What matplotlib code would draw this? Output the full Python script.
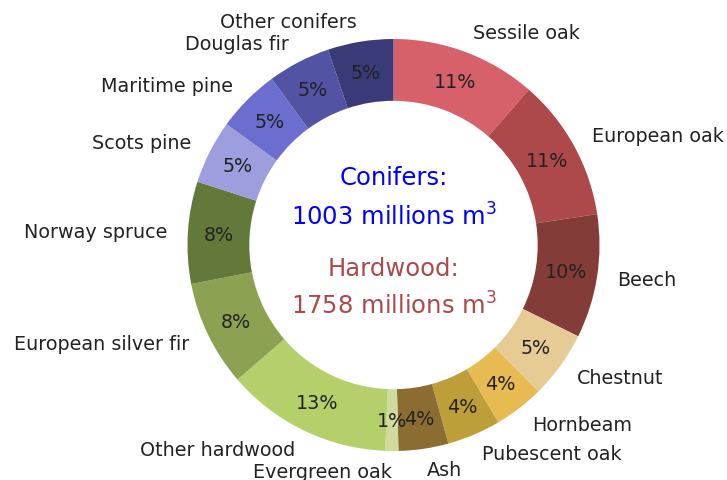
import numpy as np
import matplotlib
matplotlib.use('Agg')
import matplotlib.pyplot as plt

# standing volume, millions of m3 (clockwise from top)
species = ['Sessile oak', 'European oak', 'Beech', 'Chestnut', 'Hornbeam',
           'Pubescent oak', 'Ash', 'Evergreen oak', 'Other hardwood',
           'European silver fir', 'Norway spruce', 'Scots pine',
           'Maritime pine', 'Douglas fir', 'Other conifers']
volumes = [315, 309, 268, 146, 108, 116, 108, 28, 360,
           229, 221, 138, 137, 136, 142]
colors = ['#d6616b', '#ad494a', '#843c39', '#e7cb94', '#e7ba52',
          '#bd9e39', '#8c6d31', '#cedb9c', '#b5cf6b',
          '#8ca252', '#637939', '#9c9ede', '#6b6ecf', '#5254a3', '#393b79']

conifers_total = 1003
hardwood_total = 1758

fig = plt.figure(figsize=(7.27, 4.81), dpi=100)
ax = fig.add_axes([0, 0, 1, 1])

wedges, texts, autotexts = ax.pie(volumes, labels=species, colors=colors,
                                  autopct='%.0f%%', startangle=90,
                                  counterclock=False, pctdistance=0.85,
                                  labeldistance=1.1,
                                  wedgeprops=dict(width=0.3),
                                  textprops=dict(fontsize=13.8, color='#222222'))

# place the pie: centre at (393.5, 246) px, outer radius 206 px
cx, cy, r = 393.5, 246.0, 206.0
ax.set_xlim(-cx / r, (727 - cx) / r)
ax.set_ylim(-(481 - cy) / r, cy / r)
ax.set_aspect('auto')
ax.axis('off')

ax.text(0, 0.33, 'Conifers:', ha='center', va='center', fontsize=17.5, color='blue')
ax.text(0, 0.14, f'{conifers_total} millions m$^3$', ha='center', va='center',
        fontsize=17.5, color='blue')
ax.text(0, -0.11, 'Hardwood:', ha='center', va='center', fontsize=17.5, color='#ad494a')
ax.text(0, -0.29, f'{hardwood_total} millions m$^3$', ha='center', va='center',
        fontsize=17.5, color='#ad494a')

fig.savefig('out.png', dpi=100)
